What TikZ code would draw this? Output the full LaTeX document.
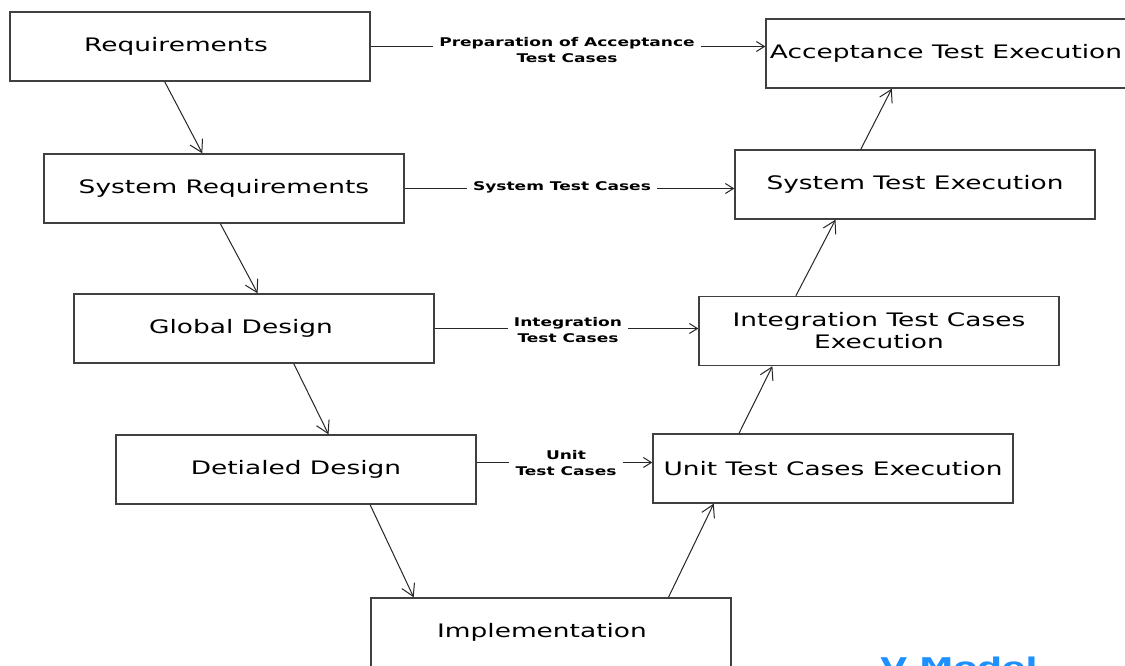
\documentclass[tikz,border=0pt]{standalone}
\usepackage{fontspec}
\setmainfont[FakeStretch=1.42]{DejaVu Sans}
\usetikzlibrary{arrows.meta, calc}

\definecolor{vblue}{RGB}{30,144,255}

\tikzset{
  stage/.style={draw=black!75, line width=0.7pt, minimum width=180pt, minimum height=34.5pt,
    inner sep=0pt, align=center, font=\fontsize{9.3}{11}\selectfont},
  caselbl/.style={align=center, inner sep=3pt, font=\fontsize{6}{8}\selectfont\bfseries},
  flow/.style={draw=black!85, line width=0.5pt, -{Straight Barb[length=6pt,width=7pt]}},
  feed/.style={draw=black!85, line width=0.5pt, -{Straight Barb[length=4pt,width=5pt]}},
  plainline/.style={draw=black!85, line width=0.5pt},
}

\begin{document}
\begin{tikzpicture}[x=0.5pt, y=-0.5pt]
    \clip (0,0) rectangle (1125,665);
    \fill[white] (0,0) rectangle (1125,665);

    % Left branch (design)
    \node[stage] (req) at (190,46.5) {Requirements\hspace*{14pt}};
    \node[stage] (sysreq) at (224,188.5) {System Requirements};
    \node[stage] (glob) at (254,328.5) {Global Design\hspace*{13pt}};
    \node[stage] (det) at (296,469.5) {Detialed Design};
    \node[stage] (impl) at (551,632.5) {Implementation\hspace*{9pt}};

    % Right branch (testing)
    \node[stage] (acc) at (946,53.5) {Acceptance Test Execution};
    \node[stage] (systest) at (915,184.5) {System Test Execution};
    \node[stage] (integ) at (879,331) {Integration Test Cases\\Execution};
    \node[stage] (unit) at (833,468.5) {Unit Test Cases Execution};

    % Test case labels
    \node[caselbl] (lblacc) at (567,50) {Preparation of Acceptance\\Test Cases};
    \node[caselbl] (lblsys) at (562,187) {System Test Cases};
    \node[caselbl] (lblint) at (568,330) {Integration\\Test Cases};
    \node[caselbl] (lblunit) at (566,463) {Unit\\Test Cases};

    % Down the V
    \draw[flow] ($(req.south west)!0.43!(req.south east)$) -- ($(sysreq.north west)!0.44!(sysreq.north east)$);
    \draw[flow] ($(sysreq.south west)!0.49!(sysreq.south east)$) -- ($(glob.north west)!0.51!(glob.north east)$);
    \draw[flow] ($(glob.south west)!0.61!(glob.south east)$) -- ($(det.north west)!0.59!(det.north east)$);
    \draw[flow] ($(det.south west)!0.705!(det.south east)$) -- ($(impl.north west)!0.12!(impl.north east)$);

    % Up the V
    \draw[flow] ($(impl.north west)!0.825!(impl.north east)$) -- ($(unit.south west)!0.17!(unit.south east)$);
    \draw[flow] ($(unit.north west)!0.24!(unit.north east)$) -- ($(integ.south west)!0.205!(integ.south east)$);
    \draw[flow] ($(integ.north west)!0.27!(integ.north east)$) -- ($(systest.south west)!0.28!(systest.south east)$);
    \draw[flow] ($(systest.north west)!0.35!(systest.north east)$) -- ($(acc.south west)!0.35!(acc.south east)$);

    % Across the V
    \draw[plainline] (req.east) -- (req.east -| lblacc.west);
    \draw[feed] (lblacc.east |- req.east) -- (req.east -| acc.west);
    \draw[plainline] (sysreq.east) -- (sysreq.east -| lblsys.west);
    \draw[feed] (lblsys.east |- sysreq.east) -- (sysreq.east -| systest.west);
    \draw[plainline] (glob.east) -- (glob.east -| lblint.west);
    \draw[feed] (lblint.east |- glob.east) -- (glob.east -| integ.west);
    \coordinate (detout) at ([yshift=3.5pt]det.east);
    \draw[plainline] (detout) -- (detout -| lblunit.west);
    \draw[feed] (lblunit.east |- detout) -- (detout -| unit.west);

    % Title
    \node[anchor=north, inner sep=0pt, text=vblue, font=\fontsize{12.2}{14}\selectfont\bfseries] (title) at (959,657) {V-Model};

\end{tikzpicture}
\end{document}
